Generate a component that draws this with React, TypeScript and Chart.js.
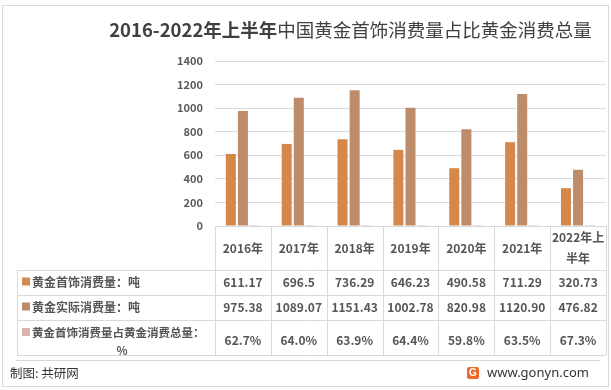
import React, { useEffect, useRef } from 'react';
import { Chart, registerables } from 'chart.js';

Chart.register(...registerables);

const categories = ['2016年', '2017年', '2018年', '2019年', '2020年', '2021年', '2022年上半年'];
const headerLines = [['2016年'], ['2017年'], ['2018年'], ['2019年'], ['2020年'], ['2021年'], ['2022年上', '半年']];
const jewelry = [611.17, 696.5, 736.29, 646.23, 490.58, 711.29, 320.73];
const actual = [975.38, 1089.07, 1151.43, 1002.78, 820.98, 1120.9, 476.82];
const sharePct = [62.7, 64.0, 63.9, 64.4, 59.8, 63.5, 67.3];
const seriesNames = ['黄金首饰消费量：吨', '黄金实际消费量：吨', '黄金首饰消费量占黄金消费总量：'];
const yMax = 1400;
const yStep = 200;

const colors = ['#D4894A', '#BD8C6B', '#D7B7AB'];
const FONT = '"Noto Sans CJK SC", "Noto Sans", sans-serif';
const TEXT = '#555555';
const LINE = '#D9D9D9';
const WEIGHT = 'bold';

const tablePlugin = {
  id: 'dataTable',
  afterDraw(chart: any) {
    const ctx = chart.ctx as CanvasRenderingContext2D;
    const x = chart.scales.x;
    const area = chart.chartArea;
    const n = categories.length;
    const colW = (area.right - area.left) / n;
    const top = area.bottom;
    const headerH = 44;
    const rowHs = [25, 25, 35];
    const labelLeft = 17;
    const rowTops = [top + headerH];
    rowHs.forEach((h, i) => rowTops.push(rowTops[i] + h));
    const bottom = rowTops[rowTops.length - 1];

    ctx.save();
    ctx.strokeStyle = LINE;
    ctx.lineWidth = 1;
    ctx.beginPath();
    for (let i = 0; i <= n; i++) {
      const px = Math.round(area.left + i * colW) + 0.5;
      ctx.moveTo(px, top);
      ctx.lineTo(px, bottom);
    }
    rowTops.forEach((ry) => {
      const py = Math.round(ry) + 0.5;
      ctx.moveTo(labelLeft, py);
      ctx.lineTo(area.right, py);
    });
    ctx.moveTo(labelLeft + 0.5, rowTops[0]);
    ctx.lineTo(labelLeft + 0.5, bottom);
    ctx.stroke();

    ctx.fillStyle = TEXT;
    ctx.textAlign = 'center';
    ctx.textBaseline = 'middle';
    ctx.font = `${WEIGHT} 12px ${FONT}`;
    headerLines.forEach((lines, i) => {
      const cx = x.getPixelForValue(i);
      const cy = top + headerH / 2;
      const lh = 21;
      lines.forEach((t, k) => {
        ctx.fillText(t, cx, cy + (k - (lines.length - 1) / 2) * lh);
      });
    });
    const rowVals = [
      jewelry.map((v) => String(v)),
      actual.map((v) => v.toFixed(2)),
      sharePct.map((v) => v.toFixed(1) + '%'),
    ];
    rowVals.forEach((vals, r) => {
      const cy = rowTops[r] + rowHs[r] / 2 + (r === 2 ? 3 : 0);
      vals.forEach((t, i) => {
        ctx.fillText(t, x.getPixelForValue(i), cy);
      });
    });
    seriesNames.forEach((name, r) => {
      const ly = r === 2 ? rowTops[r] + 13 : rowTops[r] + rowHs[r] / 2;
      ctx.fillStyle = colors[r];
      ctx.fillRect(22, ly - 5, 8, 8);
      ctx.fillStyle = TEXT;
      ctx.textAlign = 'left';
      ctx.font = `${WEIGHT} ${r === 2 ? 11.5 : 12}px ${FONT}`;
      ctx.fillText(name, 32, ly);
      if (r === 2) {
        ctx.textAlign = 'center';
        ctx.fillText('%', 122, ly + 18);
      }
    });
    ctx.restore();
  },
};

export default function App() {
  const ref = useRef<HTMLCanvasElement>(null);
  useEffect(() => {
    if (!ref.current) return;
    const chart = new Chart(ref.current, {
      type: 'bar',
      data: {
        labels: categories,
        datasets: [
          { label: seriesNames[0], data: jewelry, backgroundColor: colors[0] },
          { label: seriesNames[1], data: actual, backgroundColor: colors[1] },
          { label: seriesNames[2], data: sharePct.map((v) => v / 100), backgroundColor: colors[2] },
        ],
      },
      options: {
        responsive: false,
        animation: false,
        devicePixelRatio: 1,
        layout: { padding: { left: 165, right: 5, top: 61, bottom: 164 } },
        datasets: { bar: { categoryPercentage: 0.65, barPercentage: 0.83 } },
        plugins: { legend: { display: false }, tooltip: { enabled: false }, title: { display: false } },
        scales: {
          x: { display: false },
          y: {
            min: 0,
            max: yMax,
            ticks: {
              stepSize: yStep,
              padding: 12,
              color: '#595959',
              font: { family: FONT, size: 11, weight: WEIGHT },
              callback: (v: any) => String(v),
            },
            grid: { color: LINE, drawTicks: false },
            border: { display: false },
            afterFit: (scale: any) => {
              scale.width = 50;
            },
          },
        },
      },
      plugins: [tablePlugin],
    });
    return () => chart.destroy();
  }, []);

  return (
    <div style={{ position: 'fixed', left: 0, top: 0, width: 611, height: 390, background: '#fff', overflow: 'hidden', fontFamily: FONT }}>
      <div style={{ position: 'absolute', left: 2, top: 5, width: 605, height: 380, border: `1px solid ${LINE}` }} />
      <canvas ref={ref} width={611} height={390} style={{ position: 'absolute', left: 0, top: 0, width: 611, height: 390 }} />
      <div style={{ position: 'absolute', left: 0, width: 611, top: 16, textAlign: 'center', paddingLeft: 90, boxSizing: 'border-box', fontSize: 18.5, color: '#404040', lineHeight: '26px', whiteSpace: 'nowrap' }}>
        <span style={{ fontWeight: 'bold' }}>2016-2022年上半年</span>
        <span>中国黄金首饰消费量占比黄金消费总量</span>
      </div>
      <div style={{ position: 'absolute', left: 16, top: 360, width: 584, height: 0, borderTop: `1px solid ${LINE}` }} />
      <div style={{ position: 'absolute', left: 10, top: 364, fontSize: 12.5, color: '#333', lineHeight: '18px' }}>制图: 共研网</div>
      <div style={{ position: 'absolute', left: 467, top: 367, width: 12, height: 12, background: '#EE6A2C', borderRadius: 2, color: '#fff', fontSize: 10, fontWeight: 'bold', lineHeight: '12px', textAlign: 'center', fontFamily: 'Arial, sans-serif' }}>G</div>
      <div style={{ position: 'absolute', left: 487, top: 363, fontSize: 13, color: '#333', lineHeight: '18px', fontFamily: '"Noto Sans", sans-serif' }}>www.gonyn.com</div>
    </div>
  );
}
